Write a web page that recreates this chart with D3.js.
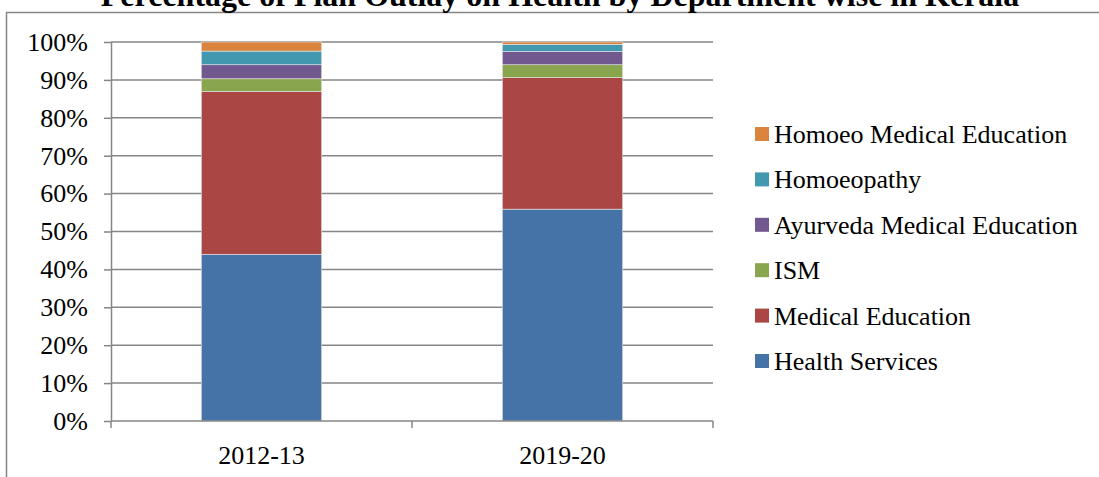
<!doctype html>
<html>
<head>
<script src="https://d3js.org/d3.v7.min.js"></script>
<style>
  body { margin: 0; background: #fff; }
  text { font-family: "Liberation Serif", "Times New Roman", serif; fill: #000; }
</style>
</head>
<body>
<script>
// data (percent of plan outlay)
var years = ["2012-13", "2019-20"];
var departments = ["Health Services", "Medical Education", "ISM",
                   "Ayurveda Medical Education", "Homoeopathy", "Homoeo Medical Education"];
var healthServices   = [44.0, 55.9];
var medicalEducation = [43.0, 34.7];
var ism              = [3.3, 3.4];
var ayurvedaMedEdu   = [3.7, 3.5];
var homoeopathy      = [3.6, 1.9];
var homoeoMedEdu     = [2.4, 0.6];
var yTicks = [0, 10, 20, 30, 40, 50, 60, 70, 80, 90, 100];
var colors = ["#4572A7", "#AA4643", "#89A54E", "#71588F", "#4198AF", "#DB843D"];

var width = 1099, height = 477;
var margin = {top: 42, left: 111, right: 386, bottom: 56};

var svg = d3.select("body").append("svg")
    .attr("width", width)
    .attr("height", height);

// outer chart frame
svg.append("rect")
    .attr("x", 6.5).attr("y", 12.5)
    .attr("width", width).attr("height", height)
    .attr("fill", "none")
    .attr("stroke", "#868686")
    .attr("stroke-width", 1.5);

// title (cut off at top, as in the original)
svg.append("text")
    .attr("x", 560).attr("y", 6)
    .attr("text-anchor", "middle")
    .attr("font-size", "32px")
    .attr("font-weight", "bold")
    .text("Percentage of Plan Outlay on Health by Department wise in Kerala");

// build table
var table = years.map(function(y, i) {
  return {
    year: y,
    "Health Services": healthServices[i],
    "Medical Education": medicalEducation[i],
    "ISM": ism[i],
    "Ayurveda Medical Education": ayurvedaMedEdu[i],
    "Homoeopathy": homoeopathy[i],
    "Homoeo Medical Education": homoeoMedEdu[i]
  };
});
var stacked = d3.stack().keys(departments)(table);

var x = d3.scaleBand()
    .domain(years)
    .range([margin.left, width - margin.right])
    .paddingInner(0.6)
    .paddingOuter(0.3);

var y = d3.scaleLinear()
    .domain([0, 100])
    .range([height - margin.bottom, margin.top]);

// gridlines
svg.append("g")
  .selectAll("line")
  .data(yTicks.slice(1))
  .join("line")
    .attr("x1", margin.left).attr("x2", width - margin.right)
    .attr("y1", function(d) { return y(d); })
    .attr("y2", function(d) { return y(d); })
    .attr("stroke", "#868686")
    .attr("stroke-width", 1.5);

// bars
var color = d3.scaleOrdinal().domain(departments).range(colors);
svg.append("g")
  .selectAll("g")
  .data(stacked)
  .join("g")
    .attr("fill", function(d) { return color(d.key); })
  .selectAll("rect")
  .data(function(d) { return d; })
  .join("rect")
    .attr("x", function(d) { return x(d.data.year); })
    .attr("y", function(d) { return y(d[1]); })
    .attr("width", x.bandwidth())
    .attr("height", function(d) { return y(d[0]) - y(d[1]); })
    .attr("stroke", "#e6e6e6")
    .attr("stroke-width", 0.6);

// y axis
var yAxis = svg.append("g")
    .attr("transform", "translate(" + margin.left + ",0)")
    .call(d3.axisLeft(y).tickValues(yTicks).tickFormat(function(d) { return d + "%"; })
          .tickSize(7).tickSizeOuter(0).tickPadding(16));
yAxis.select(".domain").attr("stroke", "#868686").attr("stroke-width", 1.5);
yAxis.selectAll(".tick line").attr("stroke", "#868686").attr("stroke-width", 1.5);
yAxis.selectAll("text").attr("font-size", "26px").attr("fill", "#000")
    .style("font-family", "'Liberation Serif', serif");

// x axis with ticks between categories
var xAxis = svg.append("g")
    .attr("transform", "translate(0," + y(0) + ")");
xAxis.append("line")
    .attr("x1", margin.left).attr("x2", width - margin.right)
    .attr("stroke", "#868686").attr("stroke-width", 1.5);
var edges = [margin.left, (x(years[0]) + x.bandwidth() + x(years[1])) / 2, width - margin.right];
xAxis.selectAll(".sep")
  .data(edges)
  .join("line")
    .attr("x1", function(d) { return d; }).attr("x2", function(d) { return d; })
    .attr("y1", 0).attr("y2", 7)
    .attr("stroke", "#868686").attr("stroke-width", 1.5);
xAxis.selectAll(".lbl")
  .data(years)
  .join("text")
    .attr("x", function(d) { return x(d) + x.bandwidth() / 2; })
    .attr("y", 43)
    .attr("text-anchor", "middle")
    .attr("font-size", "26px")
    .text(function(d) { return d; });

// legend (top item is last series)
var legendItems = departments.slice().reverse();
var legend = svg.append("g")
  .selectAll("g")
  .data(legendItems)
  .join("g")
    .attr("transform", function(d, i) { return "translate(755," + (134 + i * 45.4) + ")"; });
legend.append("rect")
    .attr("x", 0).attr("y", -7)
    .attr("width", 14).attr("height", 14)
    .attr("fill", function(d) { return color(d); });
legend.append("text")
    .attr("x", 19).attr("y", 9)
    .attr("font-size", "26px")
    .text(function(d) { return d; });
</script>
</body>
</html>
